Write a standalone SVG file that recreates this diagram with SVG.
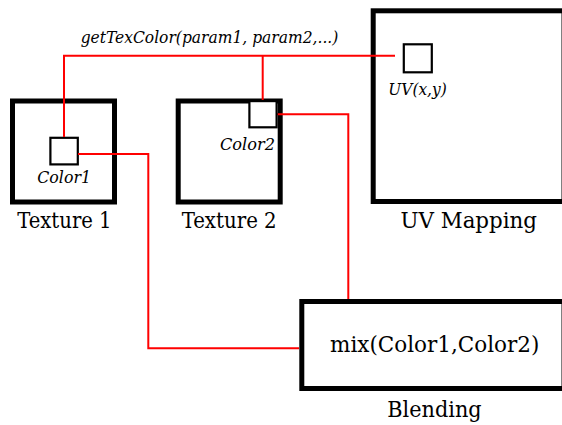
<svg xmlns="http://www.w3.org/2000/svg" width="562" height="425" viewBox="0 0 562 425">
  <style>
    .frame { fill: #ffffff; stroke: #000000; stroke-width: 5; }
    .slot { fill: #ffffff; stroke: #000000; stroke-width: 2.2; }
    .wire { fill: none; stroke: #ff0000; stroke-width: 2; }
    text { font-family: "DejaVu Serif Condensed", "DejaVu Serif", serif; fill: #000000; }
    .label { font-size: 22px; }
    .title { font-size: 23px; }
    .tag { font-size: 17px; font-style: italic; }
  </style>
  <rect width="562" height="425" fill="#ffffff"/>

  <!-- UV mapping panel (runs off the right edge) -->
  <g id="uv-mapping">
    <rect class="frame" x="373.2" y="10.8" width="190.8" height="190.7"/>
    <rect class="slot" x="403.8" y="44.3" width="28" height="28"/>
    <text class="tag" x="388.3" y="95" textLength="58.4" lengthAdjust="spacingAndGlyphs">UV(x,y)</text>
    <text class="title" x="400.5" y="227.5" textLength="136.5" lengthAdjust="spacingAndGlyphs">UV Mapping</text>
  </g>

  <!-- first texture -->
  <g id="texture-1">
    <rect class="frame" x="12.5" y="101" width="102" height="101"/>
    <rect class="slot" x="50.4" y="137.8" width="27.4" height="26.6"/>
    <text class="tag" x="37.3" y="183.3" textLength="53.7" lengthAdjust="spacingAndGlyphs">Color1</text>
    <text class="label" x="17.3" y="227.5" textLength="94.3" lengthAdjust="spacingAndGlyphs">Texture 1</text>
  </g>

  <!-- second texture -->
  <g id="texture-2">
    <rect class="frame" x="178.2" y="101" width="102" height="101"/>
    <text class="tag" x="220" y="150" textLength="55" lengthAdjust="spacingAndGlyphs">Color2</text>
    <text class="label" x="181.7" y="227.5" textLength="95" lengthAdjust="spacingAndGlyphs">Texture 2</text>
  </g>

  <!-- blending stage (runs off the right edge) -->
  <g id="blending">
    <rect class="frame" x="301.8" y="301.5" width="262.2" height="87"/>
    <text class="title" x="330" y="351.7" textLength="209.3" lengthAdjust="spacingAndGlyphs">mix(Color1,Color2)</text>
    <text class="title" x="387.3" y="416.7" textLength="94.3" lengthAdjust="spacingAndGlyphs">Blending</text>
  </g>

  <!-- connectors -->
  <g id="connectors">
    <polyline class="wire" points="395,55.7 64,55.7 64,137"/>
    <polyline class="wire" points="262.7,55.7 262.7,101"/>
    <polyline class="wire" points="78,154 148.3,154 148.3,348.3 299,348.3"/>
    <polyline class="wire" points="277,114.3 348.3,114.3 348.3,299"/>
    <text class="tag" x="80.7" y="43.3" textLength="257.6" lengthAdjust="spacingAndGlyphs">getTexColor(param1, param2,...)</text>
  </g>

  <!-- sample slot of the second texture, drawn over the connector ends -->
  <g id="texture-2-slot">
    <rect class="slot" x="249.4" y="101.1" width="27.2" height="26.2"/>
  </g>
</svg>
